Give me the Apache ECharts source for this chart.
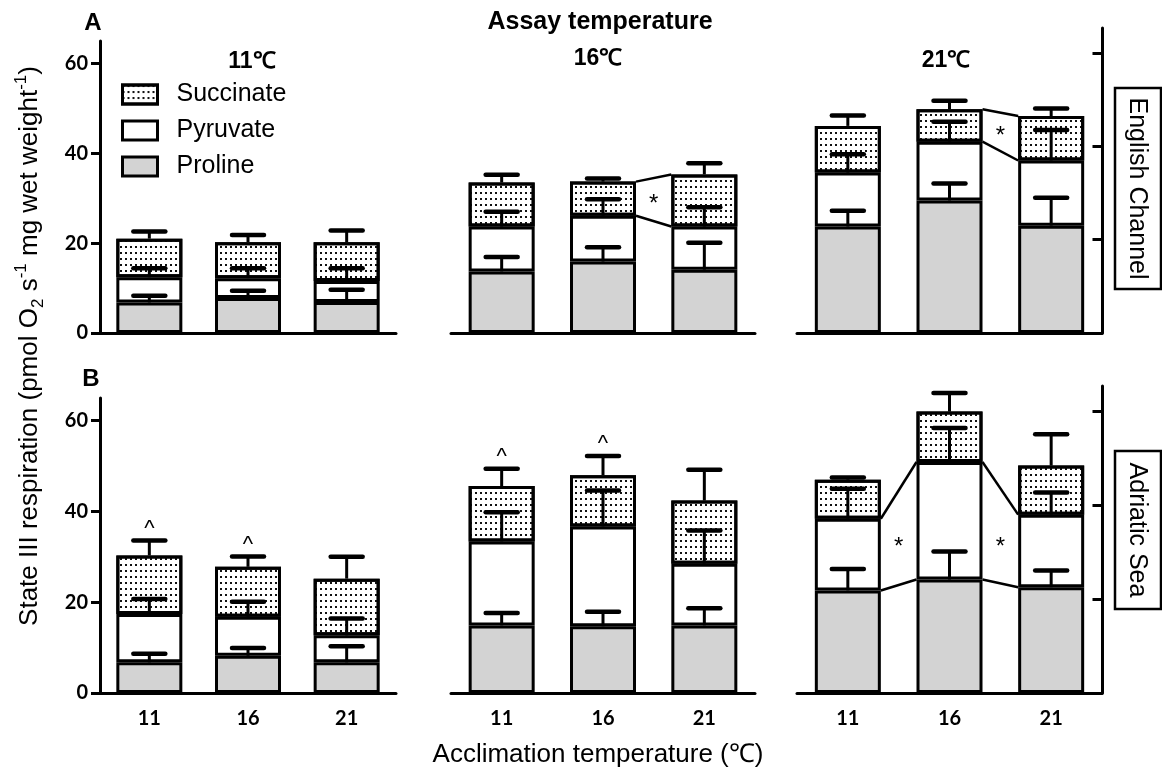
<!DOCTYPE html>
<html>
<head>
<meta charset="utf-8">
<script src="https://cdn.jsdelivr.net/npm/echarts@6/dist/echarts.min.js"></script>
<style>
  html, body { margin: 0; padding: 0; background: #fff; }
  #chart { width: 1162px; height: 774px; }
</style>
</head>
<body>
<div id="chart"></div>
<script>
// x categories (acclimation temperature) and panel titles (assay temperature)
const acclimation = ['11', '16', '21']
const assayLabels = ['11℃', '16℃', '21℃']
const yTicks = [0, 20, 40, 60]
const rightTicks = [1, 2, 3]

// segment heights; one inner array per assay temperature panel
// A: English Channel
const prolineEC = [[6.8, 7.8, 6.9], [13.7, 15.9, 14.1], [23.7, 29.5, 23.9]]
const pyruvateEC = [[5.6, 4.4, 4.7], [10.0, 10.2, 9.6], [12.0, 13.1, 14.5]]
const succinateEC = [[8.6, 8.0, 8.6], [9.8, 7.6, 11.6], [10.4, 7.2, 9.9]]
const prolineSemEC = [[1.5, 1.6, 2.7], [3.2, 3.2, 6.0], [3.5, 3.8, 6.2]]
const pyruvateSemEC = [[2.0, 2.2, 2.8], [3.3, 3.7, 4.3], [4.1, 4.4, 6.8]]
const succinateSemEC = [[1.6, 1.6, 2.6], [1.7, 0.7, 2.5], [2.3, 1.9, 1.7]]

// B: Adriatic Sea
const prolineAS = [[6.75, 8.2, 6.75], [14.9, 14.7, 14.9], [22.6, 25.0, 23.3]]
const pyruvateAS = [[10.65, 8.6, 5.95], [18.5, 22.0, 13.6], [15.8, 25.9, 16.0]]
const succinateAS = [[12.9, 11.0, 12.5], [12.2, 11.3, 13.9], [8.6, 11.1, 10.8]]
const prolineSemAS = [[1.9, 1.7, 3.55], [2.7, 3.2, 3.8], [4.7, 6.2, 3.7]]
const pyruvateSemAS = [[3.3, 3.3, 3.7], [6.4, 7.9, 7.3], [6.6, 7.5, 4.9]]
const succinateSemAS = [[3.3, 2.3, 4.8], [3.8, 4.2, 6.8], [0.5, 4.1, 6.9]]

// joined segment tops between neighbouring bars: [row, panel, left bar, level 1..3]
const joinLines = [
  [0, 1, 1, 2], [0, 1, 1, 3],
  [0, 2, 1, 2], [0, 2, 1, 3],
  [1, 2, 0, 1], [1, 2, 0, 2], [1, 2, 1, 1], [1, 2, 1, 2]
]
// symbols: [row, panel, bar, between bar and next (1) or over bar (0), value, text]
const marks = [
  [0, 1, 1, 1, 29.6, '*'],
  [0, 2, 1, 1, 44.8, '*'],
  [1, 0, 0, 0, 37.1, '^'], [1, 0, 1, 0, 33.6, '^'],
  [1, 1, 0, 0, 52.9, '^'], [1, 1, 1, 0, 55.9, '^'],
  [1, 2, 0, 1, 33.2, '*'], [1, 2, 1, 1, 33.2, '*']
]

const rows = [
  { seg: [prolineEC, pyruvateEC, succinateEC], sem: [prolineSemEC, pyruvateSemEC, succinateSemEC] },
  { seg: [prolineAS, pyruvateAS, succinateAS], sem: [prolineSemAS, pyruvateSemAS, succinateSemAS] }
]

const ARIAL = 'Liberation Sans, Arial, sans-serif'
const TICKFONT = 'Lato, Carlito, sans-serif'
const BAR_W = 66
const colLeft = [100, 451, 797]
const colWidth = [296, 304, 305]
const rowTop = [41, 398]
const rowHeight = [292, 295]

const segNames = ['Proline', 'Pyruvate', 'Succinate']
const segStyle = [
  { color: '#d3d3d3' },
  { color: '#ffffff' },
  { color: '#ffffff', decal: { symbol: 'rect', symbolSize: 1, color: '#111', dashArrayX: [2, 3], dashArrayY: [2, 3.3] } }
]

const grids = []
const xAxes = []
const yAxes = []
const series = []

const renderErr = (params, api) => {
  const base = api.coord([api.value(0), api.value(1)])
  const top = api.coord([api.value(0), api.value(2)])
  return {
    type: 'group',
    children: [
      { type: 'line', shape: { x1: base[0], y1: base[1], x2: top[0], y2: top[1] }, style: { stroke: '#000', lineWidth: 3 } },
      { type: 'line', shape: { x1: top[0] - 16, y1: top[1], x2: top[0] + 16, y2: top[1] }, style: { stroke: '#000', lineWidth: 4.5, lineCap: 'round' } }
    ]
  }
}

const renderJoin = (params, api) => {
  const a = api.coord([api.value(0), api.value(1)])
  const b = api.coord([api.value(0) + 1, api.value(2)])
  return {
    type: 'line',
    shape: { x1: a[0] + BAR_W / 2, y1: a[1], x2: b[0] - BAR_W / 2, y2: b[1] },
    style: { stroke: '#000', lineWidth: 2.5 }
  }
}

for (let r = 0; r < 2; r++) {
  for (let c = 0; c < 3; c++) {
    const gi = r * 3 + c
    grids.push({ left: colLeft[c], top: rowTop[r], width: colWidth[c], height: rowHeight[r], outerBoundsMode: 'none' })
    xAxes.push({
      type: 'category', gridIndex: gi, data: acclimation,
      axisLine: { lineStyle: { color: '#000', width: 3 } },
      axisTick: { show: false },
      axisLabel: { show: r === 1, color: '#000', fontFamily: TICKFONT, fontWeight: 'bold', fontSize: 20, margin: 16 }
    })
    yAxes.push({
      type: 'value', gridIndex: gi, min: 0, max: 65, interval: 20, show: c === 0,
      axisLine: { show: true, onZero: false, lineStyle: { color: '#000', width: 3 } },
      axisTick: { show: true, length: 9, lineStyle: { color: '#000', width: 3 }, customValues: yTicks },
      axisLabel: { color: '#000', fontFamily: TICKFONT, fontWeight: 'bold', fontSize: 20, margin: 12, customValues: yTicks },
      splitLine: { show: false }
    })

    const segs = rows[r].seg.map(s => s[c])
    const sems = rows[r].sem.map(s => s[c])
    const tops = []
    segs.forEach((s, k) => tops.push(s.map((v, i) => v + (k ? tops[k - 1][i] : 0))))

    segs.forEach((s, k) => {
      series.push({
        type: 'bar', name: segNames[k], xAxisIndex: gi, yAxisIndex: gi, stack: 'g' + gi,
        barWidth: BAR_W, data: s, z: 2,
        itemStyle: Object.assign({ borderColor: '#000', borderWidth: 3 }, segStyle[k]),
        emphasis: { disabled: true }
      })
    })

    const errData = []
    sems.forEach((s, k) => s.forEach((e, i) => errData.push([i, tops[k][i], tops[k][i] + e])))
    series.push({
      type: 'custom', xAxisIndex: gi, yAxisIndex: gi, z: 4, silent: true,
      encode: { x: 0, y: [1, 2] }, data: errData, renderItem: renderErr
    })

    const joins = joinLines.filter(j => j[0] === r && j[1] === c)
      .map(j => [j[2], tops[j[3] - 1][j[2]], tops[j[3] - 1][j[2] + 1]])
    if (joins.length) {
      series.push({
        type: 'custom', xAxisIndex: gi, yAxisIndex: gi, z: 3, silent: true,
        encode: { x: 0, y: [1, 2] }, data: joins, renderItem: renderJoin
      })
    }

    const ms = marks.filter(m => m[0] === r && m[1] === c)
    if (ms.length) {
      series.push({
        type: 'custom', xAxisIndex: gi, yAxisIndex: gi, z: 4, silent: true,
        encode: { x: 0, y: 2 }, data: ms.map(m => [m[2], m[3], m[4]]),
        renderItem: (params, api) => {
          const p = api.coord([api.value(0), api.value(2)])
          let x = p[0]
          if (api.value(1)) x = (x + api.coord([api.value(0) + 1, 0])[0]) / 2
          const txt = ms[params.dataIndex][5]
          const fs = txt === '*' ? 24 : 22
          return {
            type: 'text', x: x, y: p[1] + fs * 0.2,
            style: { text: txt, fontFamily: ARIAL, fontSize: fs, fill: '#000', align: 'center', verticalAlign: 'middle' }
          }
        }
      })
    }
  }
}

// plain right-hand axes beside the 21℃ panels
const rightTop = [28, 386]
const rightHeight = [305, 307]
for (let r = 0; r < 2; r++) {
  const gi = 6 + r
  grids.push({ left: 1000, top: rightTop[r], width: 102.5, height: rightHeight[r], outerBoundsMode: 'none' })
  xAxes.push({ type: 'value', gridIndex: gi, show: false })
  yAxes.push({
    type: 'value', gridIndex: gi, position: 'right', min: 0, max: 3.27,
    axisLine: { show: true, onZero: false, lineStyle: { color: '#000', width: 3 } },
    axisTick: { show: true, inside: true, length: 10, lineStyle: { color: '#000', width: 3 }, customValues: rightTicks },
    axisLabel: { show: false },
    splitLine: { show: false }
  })
}

const boxLabel = (text, cy, len) => ({
  type: 'group', x: 1138, y: cy, rotation: -Math.PI / 2,
  children: [
    { type: 'rect', shape: { x: -len / 2, y: -23, width: len, height: 46 }, style: { fill: '#fff', stroke: '#000', lineWidth: 2.5 } },
    { type: 'text', style: { text: text, x: 0, y: 1, align: 'center', verticalAlign: 'middle', fontFamily: ARIAL, fontSize: 25, fill: '#000' } }
  ]
})

const bold = (text, x, y, size) => ({
  type: 'text', x: x, y: y,
  style: { text: text, align: 'center', verticalAlign: 'middle', fontFamily: ARIAL, fontWeight: 'bold', fontSize: size, fill: '#000' }
})

const chart = echarts.init(document.getElementById('chart'))
chart.setOption({
  animation: false,
  backgroundColor: '#fff',
  grid: grids,
  xAxis: xAxes,
  yAxis: yAxes,
  legend: {
    data: ['Succinate', 'Pyruvate', 'Proline'],
    orient: 'vertical', left: 121, top: 82, padding: 0,
    itemWidth: 35, itemHeight: 19, itemGap: 11, icon: 'rect',
    selectedMode: false,
    itemStyle: { borderColor: '#000', borderWidth: 3 },
    textStyle: { fontFamily: ARIAL, fontSize: 25, color: '#000', padding: [0, 0, 0, 14] }
  },
  graphic: [
    bold('A', 93, 23, 24),
    bold('B', 91, 379, 24),
    bold('Assay temperature', 600, 22, 25),
    bold(assayLabels[0], 252, 62, 23),
    bold(assayLabels[1], 598, 59, 23),
    bold(assayLabels[2], 946, 61, 23),
    {
      type: 'text', x: 30, y: 346, rotation: Math.PI / 2,
      style: {
        text: '{n|State III respiration (pmol O}{sub|2}{n| s}{sup|-1}{n| mg wet weight}{sup|-1}{n|)}',
        align: 'center', verticalAlign: 'middle', fill: '#000',
        rich: {
          n: { fontFamily: ARIAL, fontSize: 26, lineHeight: 34, fill: '#000' },
          sub: { fontFamily: ARIAL, fontSize: 17, lineHeight: 17, verticalAlign: 'bottom', fill: '#000' },
          sup: { fontFamily: ARIAL, fontSize: 17, lineHeight: 17, verticalAlign: 'top', fill: '#000' }
        }
      }
    },
    {
      type: 'text', x: 598, y: 755,
      style: { text: 'Acclimation temperature (℃)', align: 'center', verticalAlign: 'middle', fontFamily: ARIAL, fontSize: 26, fill: '#000' }
    },
    boxLabel('English Channel', 188.5, 201),
    boxLabel('Adriatic Sea', 530, 158)
  ],
  series: series
})
</script>
</body>
</html>
